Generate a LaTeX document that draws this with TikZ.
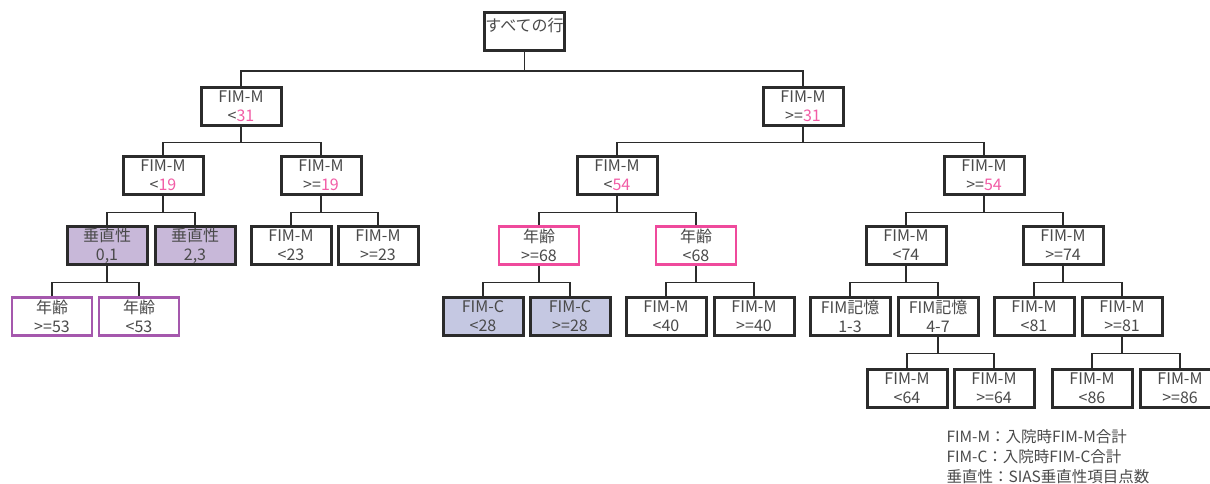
\documentclass[tikz,border=0pt]{standalone}
\usepackage{fontspec}
\setmainfont{Noto Sans CJK JP}
\usepackage{tikz}
\usetikzlibrary{calc}

\definecolor{boxline}{HTML}{2B2B2B}
\definecolor{txtgray}{HTML}{4A4A4A}
\definecolor{numpink}{HTML}{F25DA6}
\definecolor{vertfill}{HTML}{C8B8D9}
\definecolor{fimcfill}{HTML}{C5C8E2}
\definecolor{agepink}{HTML}{EF4A9C}
\definecolor{agepurple}{HTML}{A558AD}

\newcommand{\cut}[1]{{\color{numpink}#1}}

\begin{document}
\begin{tikzpicture}[x=1pt,y=-1pt,
    solidnode/.style={rectangle, draw=boxline, line width=3pt, fill=white, minimum width=80pt, minimum height=38pt, inner sep=0pt, align=center, text=txtgray, font=\fontsize{16}{19}\selectfont},
    vertnode/.style={solidnode, fill=vertfill},
    fimcnode/.style={solidnode, fill=fimcfill},
    pinknode/.style={solidnode, draw=agepink, line width=2.8pt},
    purplenode/.style={solidnode, draw=agepurple, line width=2.8pt}
    ]
    \tikzset{fork/.style={draw=boxline, line width=1.5pt, to path={(\tikztostart.south) -- ++(0,#1) -| (\tikztotarget.north)}}, fork/.default=16.5}
    \useasboundingbox (0,0) rectangle (1210,483);
    %
    %vertices
    %
    \node[solidnode, text height=5pt, text depth=5pt] (all) at (524.5,31) {すべての行};
    \node[solidnode] (m31l) at (241,106.5) {FIM-M\\<\cut{31}};
    \node[solidnode] (m31r) at (803,106.5) {FIM-M\\>=\cut{31}};
    \node[solidnode] (m19l) at (163,175.5) {FIM-M\\<\cut{19}};
    \node[solidnode] (m19r) at (321,175.5) {FIM-M\\>=\cut{19}};
    \node[solidnode] (m54l) at (617,175.5) {FIM-M\\<\cut{54}};
    \node[solidnode] (m54r) at (984,175.5) {FIM-M\\>=\cut{54}};
    \node[vertnode] (v01) at (107,245.5) {垂直性\\0,1};
    \node[vertnode] (v23) at (195,245.5) {垂直性\\2,3};
    \node[solidnode] (m23l) at (291,245.5) {FIM-M\\<23};
    \node[solidnode] (m23r) at (378,245.5) {FIM-M\\>=23};
    \node[pinknode] (a68r) at (539,245.5) {年齢\\>=68};
    \node[pinknode] (a68l) at (696,245.5) {年齢\\<68};
    \node[solidnode] (m74l) at (906,245.5) {FIM-M\\<74};
    \node[solidnode] (m74r) at (1063,245.5) {FIM-M\\>=74};
    \node[purplenode] (a53r) at (52,316.5) {年齢\\>=53};
    \node[purplenode] (a53l) at (139,316.5) {年齢\\<53};
    \node[fimcnode] (c28l) at (483,316.5) {FIM-C\\<28};
    \node[fimcnode] (c28r) at (570,316.5) {FIM-C\\>=28};
    \node[solidnode] (m40l) at (666,316.5) {FIM-M\\<40};
    \node[solidnode] (m40r) at (754,316.5) {FIM-M\\>=40};
    \node[solidnode] (k13) at (850,316.5) {FIM記憶\\1-3};
    \node[solidnode] (k47) at (938,316.5) {FIM記憶\\4-7};
    \node[solidnode] (m81l) at (1034,316.5) {FIM-M\\<81};
    \node[solidnode] (m81r) at (1122,316.5) {FIM-M\\>=81};
    \node[solidnode] (m64l) at (907,388) {FIM-M\\<64};
    \node[solidnode] (m64r) at (994,388) {FIM-M\\>=64};
    \node[solidnode] (m86l) at (1092,388) {FIM-M\\<86};
    \node[solidnode] (m86r) at (1180,388) {FIM-M\\>=86};
    %
    %legend
    %
    \node[anchor=west, align=left, text=txtgray, font=\fontsize{15.5}{20}\selectfont] (key) at (943,457)
        {FIM-M：入院時FIM-M合計\\FIM-C：入院時FIM-C合計\\垂直性：SIAS垂直性項目点数};
    %
    %edges
    %
    \draw[fork=19.5] (all) to (m31l) (all) to (m31r);
    \draw[fork=15.5] (m31l) to (m19l) (m31l) to (m19r);
    \draw[fork=15.5] (m31r) to (m54l) (m31r) to (m54r);
    \draw[fork] (m19l) to (v01) (m19l) to (v23);
    \draw[fork] (m19r) to (m23l) (m19r) to (m23r);
    \draw[fork] (m54l) to (a68r) (m54l) to (a68l);
    \draw[fork] (m54r) to (m74l) (m54r) to (m74r);
    \draw[fork] (v01) to (a53r) (v01) to (a53l);
    \draw[fork] (a68r) to (c28l) (a68r) to (c28r);
    \draw[fork] (a68l) to (m40l) (a68l) to (m40r);
    \draw[fork] (m74l) to (k13) (m74l) to (k47);
    \draw[fork] (m74r) to (m81l) (m74r) to (m81r);
    \draw[fork] (k47) to (m64l) (k47) to (m64r);
    \draw[fork] (m81r) to (m86l) (m81r) to (m86r);
\end{tikzpicture}
\end{document}
